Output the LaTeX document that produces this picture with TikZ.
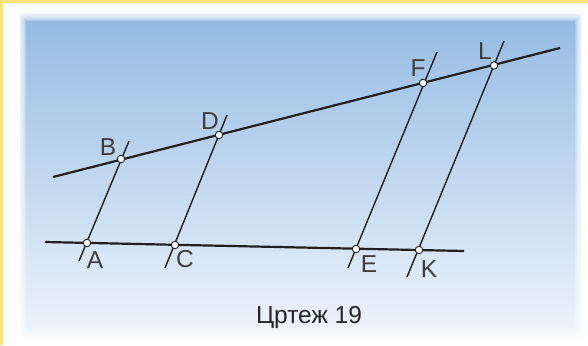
\documentclass[tikz,border=0pt]{standalone}
\usepackage{fontspec}
\setmainfont{Liberation Sans}
\usetikzlibrary{positioning}
\usepackage{xcolor}

\definecolor{frameyellow}{RGB}{255,224,122}
\definecolor{skytop}{RGB}{148,187,227}
\definecolor{skymid}{RGB}{188,211,239}
\definecolor{skybot}{RGB}{238,244,252}
\definecolor{labelgray}{RGB}{62,62,62}

\tikzset{
    mainline/.style={line width=2.2pt, black!88},
    transline/.style={line width=1.4pt, black!88},
    dot/.style={circle, draw=black!88, fill=white, line width=0.9pt, inner sep=0pt, minimum size=7.5pt},
    lbl/.style={text=labelgray, font=\fontsize{24.5}{28}\selectfont, inner sep=0pt}
}

\begin{document}
\begin{tikzpicture}[x=1pt, y=-1pt]
    \useasboundingbox (0,0) rectangle (588,345);

    % Frame and sky
    \fill[white] (0,0) rectangle (588,345);
    \fill[frameyellow] (0,0) rectangle (588,3);
    \fill[frameyellow] (0,0) rectangle (3,345);
    \shade[top color=skytop, middle color=skymid, bottom color=skybot] (20,15) rectangle (581,336);
    \foreach \w in {2,4,...,12}
        \draw[white, opacity=0.22, line width=\w pt] (20,15) rectangle (581,336);

    % Line ends
    \coordinate (top1) at (53,177);
    \coordinate (top2) at (560,48);
    \coordinate (bot1) at (45,242);
    \coordinate (bot2) at (464,251);
    \coordinate (ab1) at (79,261);
    \coordinate (ab2) at (129,141);
    \coordinate (cd1) at (165,268);
    \coordinate (cd2) at (227,115);
    \coordinate (ef1) at (348,268);
    \coordinate (ef2) at (437,52);
    \coordinate (kl1) at (407,277);
    \coordinate (kl2) at (504,41);

    % Lines
    \draw[mainline] (top1) -- (top2);
    \draw[mainline] (bot1) -- (bot2);
    \draw[transline] (ab1) -- (ab2);
    \draw[transline] (cd1) -- (cd2);
    \draw[transline] (ef1) -- (ef2);
    \draw[transline] (kl1) -- (kl2);

    % Points
    \node[dot] (A) at (87,243) {};
    \node[dot] (C) at (175,245) {};
    \node[dot] (E) at (356,249) {};
    \node[dot] (K) at (419,250) {};
    \node[dot] (B) at (121,159) {};
    \node[dot] (D) at (219,135) {};
    \node[dot] (F) at (423,83) {};
    \node[dot] (L) at (494,65.5) {};

    % Labels
    \node[lbl] (labA) at (95,260) {A};
    \node[lbl] (labC) at (185,259.5) {C};
    \node[lbl] (labE) at (369,264.5) {E};
    \node[lbl] (labK) at (429,269) {K};
    \node[lbl] (labB) at (108,147) {B};
    \node[lbl] (labD) at (210,121) {D};
    \node[lbl] (labF) at (418,68.5) {F};
    \node[lbl] (labL) at (485,51) {L};

    % Caption
    \node[lbl, text=black!85, anchor=base] (caption) at (309,323) {Цртеж 19};
\end{tikzpicture}
\end{document}
